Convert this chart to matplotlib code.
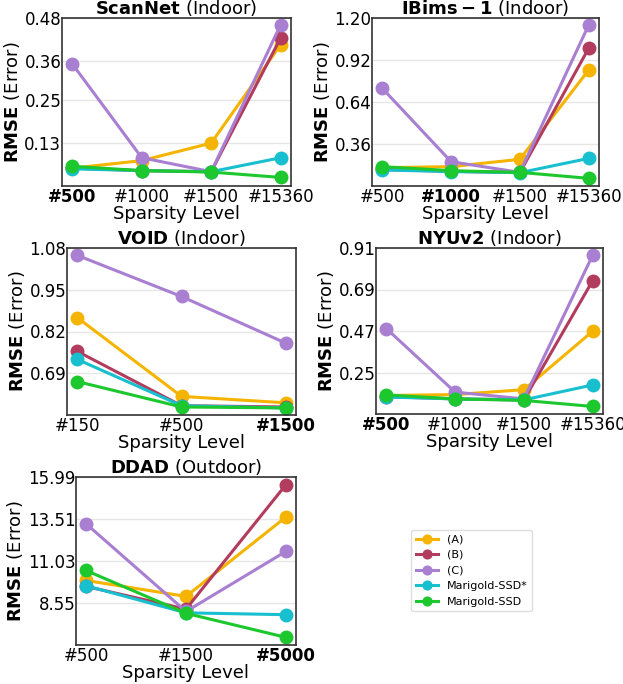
import numpy as np
import matplotlib
matplotlib.use("Agg")
import matplotlib.pyplot as plt

# methods and colours
methods = ["(A)", "(B)", "(C)", "Marigold-SSD*", "Marigold-SSD"]
colors = ["#f5b400", "#b23c5e", "#a97fd2", "#17bfcf", "#1dc72e"]

# ScanNet
scannet_x = ["#500", "#1000", "#1500", "#15360"]
scannet_y = [
    [0.060, 0.081, 0.130, 0.405],
    [0.060, 0.053, 0.050, 0.424],
    [0.351, 0.089, 0.050, 0.461],
    [0.058, 0.053, 0.050, 0.089],
    [0.065, 0.053, 0.049, 0.034],
]
scannet_ticks = [0.13, 0.25, 0.36, 0.48]

# IBims-1
ibims_x = ["#500", "#1000", "#1500", "#15360"]
ibims_y = [
    [0.202, 0.209, 0.258, 0.853],
    [0.190, 0.178, 0.170, 0.998],
    [0.731, 0.242, 0.171, 1.153],
    [0.187, 0.176, 0.169, 0.264],
    [0.209, 0.182, 0.171, 0.131],
]
ibims_ticks = [0.36, 0.64, 0.92, 1.20]

# VOID
void_x = ["#150", "#500", "#1500"]
void_y = [
    [0.863, 0.618, 0.598],
    [0.758, 0.589, 0.585],
    [1.057, 0.929, 0.784],
    [0.733, 0.589, 0.582],
    [0.664, 0.585, 0.582],
]
void_ticks = [0.69, 0.82, 0.95, 1.08]

# NYUv2
nyu_x = ["#500", "#1000", "#1500", "#15360"]
nyu_y = [
    [0.128, 0.133, 0.159, 0.469],
    [0.122, 0.110, 0.105, 0.737],
    [0.483, 0.146, 0.110, 0.872],
    [0.120, 0.110, 0.105, 0.184],
    [0.131, 0.110, 0.102, 0.070],
]
nyu_ticks = [0.25, 0.47, 0.69, 0.91]

# DDAD
ddad_x = ["#500", "#1500", "#5000"]
ddad_y = [
    [9.88, 8.94, 13.63],
    [9.53, 8.19, 15.54],
    [13.23, 8.05, 11.60],
    [9.57, 7.97, 7.86],
    [10.47, 7.94, 6.52],
]
ddad_ticks = [8.55, 11.03, 13.51, 15.99]

panels = [
    (r"$\bf{ScanNet}$ (Indoor)", scannet_x, scannet_y, scannet_ticks, 0),
    (r"$\bf{IBims-1}$ (Indoor)", ibims_x, ibims_y, ibims_ticks, 1),
    (r"$\bf{VOID}$ (Indoor)", void_x, void_y, void_ticks, 2),
    (r"$\bf{NYUv2}$ (Indoor)", nyu_x, nyu_y, nyu_ticks, 0),
    (r"$\bf{DDAD}$ (Outdoor)", ddad_x, ddad_y, ddad_ticks, 2),
]

# axes boxes in pixels: left, top, right, bottom
W, H = 623, 684
boxes = [
    (62, 18, 291, 186),
    (372, 18, 599, 186),
    (67, 248, 296, 415),
    (376, 248, 603, 414),
    (76, 477, 296, 645),
]

fig = plt.figure(figsize=(W / 100, H / 100), dpi=100)

handles = []
for (title, xl, ys, ticks, bold_i), (l, t, r, b) in zip(panels, boxes):
    ax = fig.add_axes([l / W, 1 - b / H, (r - l) / W, (b - t) / H])
    x = np.arange(len(xl))
    for i, m in enumerate(methods):
        h, = ax.plot(x, ys[i], "-o", color=colors[i], lw=2.2, ms=9, label=m)
        if len(handles) < len(methods):
            handles.append(h)
    step = ticks[1] - ticks[0]
    ax.set_ylim(ticks[0] - step, ticks[-1])
    ax.set_yticks(ticks)
    ax.set_yticklabels([f"{v:.2f}" for v in ticks], fontsize=12)
    ax.set_xlim(-(len(xl) - 1) * 0.05, (len(xl) - 1) * 1.05)
    ax.set_xticks(x)
    ax.set_xticklabels(xl, fontsize=12)
    ax.get_xticklabels()[bold_i].set_fontweight("bold")
    ax.tick_params(axis="y", length=0, pad=0.5)
    ax.tick_params(axis="x", length=0, pad=1.5)
    ax.grid(axis="y", color="#e6e6e6", lw=1)
    ax.set_axisbelow(True)
    for s in ax.spines.values():
        s.set_color("#333333")
        s.set_linewidth(1.2)
    ax.set_title(title, fontsize=13, pad=3)
    ax.set_xlabel("Sparsity Level", fontsize=13, labelpad=-1)
    ax.set_ylabel(r"$\bf{RMSE}$ (Error)", fontsize=13, labelpad=2)

fig.legend(handles=handles, loc="center", bbox_to_anchor=(471.5 / W, 1 - 570.5 / H),
           fontsize=8, markerscale=0.7, framealpha=1, edgecolor="#dddddd")

fig.savefig("out.png", dpi=100)
